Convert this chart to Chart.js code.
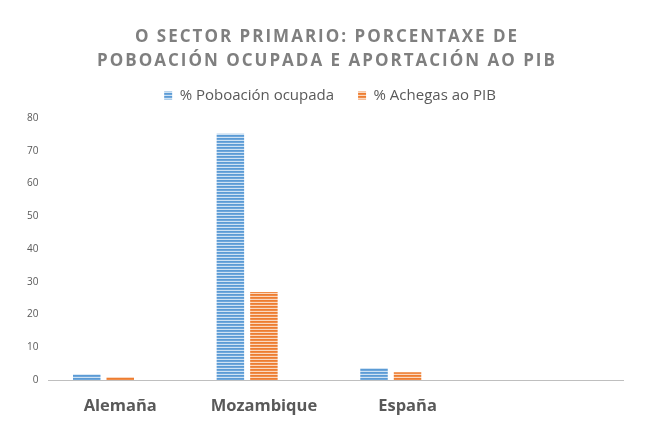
<!DOCTYPE html>
<html>
<head>
<meta charset="utf-8">
<script src="https://cdn.jsdelivr.net/npm/chart.js@4/dist/chart.umd.min.js"></script>
<style>
  html, body { margin: 0; padding: 0; background: #ffffff; }
  #wrap { width: 659px; height: 422px; position: relative; }
</style>
</head>
<body>
<div id="wrap"><canvas id="c" width="659" height="422"></canvas></div>
<script>
// ---- data ----
const titleLines = ['O SECTOR PRIMARIO: PORCENTAXE DE', 'POBOACIÓN OCUPADA E APORTACIÓN AO PIB'];
const categories = ['Alemaña', 'Mozambique', 'España', ''];
const seriesNames = ['% Poboación ocupada', '% Achegas ao PIB', ''];
const poboacionOcupada = [1.8, 75.2, 3.7, null];
const achegasPIB = [1.0, 26.9, 2.4, null];
const emptySeries = [null, null, null, null];
const yTicksMax = 80;
const yTicksStep = 10;

// ---- striped patterns ----
function stripes(rows) {
  const c = document.createElement('canvas');
  c.width = 4; c.height = rows.length;
  const x = c.getContext('2d');
  rows.forEach((col, i) => { x.fillStyle = col; x.fillRect(0, i, 4, 1); });
  return x.createPattern(c, 'repeat');
}
const ctx = document.getElementById('c').getContext('2d');
const bluePat = stripes(['#5b9bd5', '#6fa7db', '#cfe2f3']);
const orangePat = stripes(['#ed7d31', '#f08c48', '#fad8c0']);

const titlePlugin = {
  id: 'spacedTitle',
  afterDraw(chart) {
    const c = chart.ctx;
    c.save();
    c.font = 'bold 17px "Open Sans"';
    c.fillStyle = '#7f7f7f';
    c.textBaseline = 'middle';
    c.textAlign = 'center';
    if ('letterSpacing' in c) c.letterSpacing = '2px';
    const ys = [37, 61];
    titleLines.forEach((t, i) => c.fillText(t, 327, ys[i]));
    c.restore();
  }
};

new Chart(ctx, {
  type: 'bar',
  data: {
    labels: categories,
    datasets: [
      { label: seriesNames[0], data: poboacionOcupada, backgroundColor: bluePat, borderWidth: 0 },
      { label: seriesNames[1], data: achegasPIB, backgroundColor: orangePat, borderWidth: 0 },
      { label: seriesNames[2], data: emptySeries, backgroundColor: '#a5a5a5', borderWidth: 0 }
    ]
  },
  options: {
    responsive: false,
    animation: false,
    devicePixelRatio: 1,
    datasets: { bar: { categoryPercentage: 0.70, barPercentage: 0.82 } },
    layout: { padding: { top: 64, left: 17, right: 16, bottom: -10 } },
    plugins: {
      title: { display: false },
      subtitle: {
        display: true,
        text: ' ',
        weight: 500,
        position: 'top',
        color: 'rgba(0,0,0,0)',
        font: { size: 1, lineHeight: 1 },
        padding: { top: 0, bottom: 4 }
      },
      tooltip: { enabled: false },
      legend: {
        display: true,
        position: 'top',
        labels: {
          filter: (item) => item.text !== '',
          boxWidth: 8,
          boxHeight: 8,
          padding: 24,
          color: '#595959',
          font: { family: '"Open Sans"', size: 15 }
        }
      }
    },
    scales: {
      x: {
        grid: { display: false, drawTicks: false },
        border: { display: true, color: '#bfbfbf', width: 1 },
        ticks: { color: '#595959', padding: 16, font: { family: '"Open Sans"', size: 16.5, weight: 'bold' } }
      },
      y: {
        min: 0,
        max: yTicksMax,
        grid: { display: false, drawTicks: false },
        border: { display: false },
        ticks: { stepSize: yTicksStep, color: '#595959', padding: 10, font: { family: '"Open Sans"', size: 10 } }
      },
      yRightSpace: {
        position: 'right',
        display: true,
        min: 0,
        max: yTicksMax,
        grid: { display: false, drawTicks: false },
        border: { display: false },
        ticks: { display: false },
        afterFit(scale) { scale.width = 20; }
      }
    }
  },
  plugins: [titlePlugin]
});
</script>
</body>
</html>
